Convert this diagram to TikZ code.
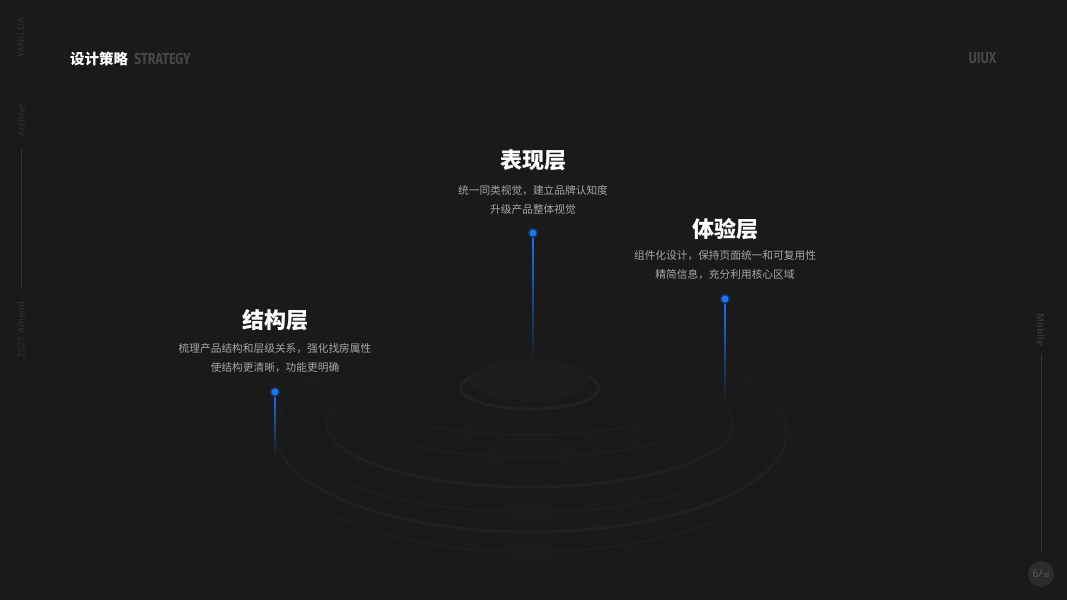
\documentclass[tikz,border=0pt]{standalone}
\usepackage{fontspec}
\setmainfont{Open Sans}
\newfontfamily\cjk{Noto Sans CJK SC}
\newfontfamily\narrow{Fira Sans}
\usetikzlibrary{calc, fadings}
\definecolor{fondo}{HTML}{1A1A1A}
\definecolor{anillo}{HTML}{222222}
\definecolor{tenue}{HTML}{1F1F1F}
\definecolor{disco}{HTML}{1D1D1D}
\definecolor{azul}{HTML}{1677FF}
\definecolor{azuloscuro}{HTML}{1B3050}
\definecolor{gristexto}{HTML}{A6A6A6}
\definecolor{grislateral}{HTML}{333333}
\definecolor{grisrotulo}{HTML}{474747}
\definecolor{grispagina}{HTML}{5C5C5C}
\definecolor{circulopagina}{HTML}{2C2C2C}
\tikzfading[name=ringfade, top color=transparent!100, middle color=transparent!25, bottom color=transparent!0]
\tikzfading[name=faintfade, top color=transparent!100, middle color=transparent!85, bottom color=transparent!0]
\tikzset{
  title/.style={font=\cjk\bfseries\fontsize{22}{26}\selectfont, text=white, inner sep=0pt},
  subtitle/.style={font=\cjk\fontsize{10.7}{19}\selectfont, text=gristexto, align=center, inner sep=0pt},
  dot/.style={circle, fill=azul, draw=azuloscuro, line width=1.6pt, minimum size=9pt, inner sep=0pt},
  side/.style={font=\fontsize{9.5}{11}\selectfont, text=grislateral, inner sep=0pt},
  ring/.style={draw=anillo, line width=3pt, path fading=ringfade},
  faintring/.style={draw=tenue, line width=2pt, path fading=faintfade},
  sideline/.style={draw=grislateral, line width=1pt}
}

\begin{document}
\begin{tikzpicture}[x=1pt, y=-1pt]

    % 1. Fondo
    \fill[fondo] (0,0) rectangle (1067,600);
    \useasboundingbox (0,0) rectangle (1067,600);

    % 2. Anillos del podio
    \draw[faintring] (530,445) ellipse [x radius=262pt, y radius=107pt];
    \draw[faintring] (530,435) ellipse [x radius=235pt, y radius=77pt];
    \draw[faintring] (530,415) ellipse [x radius=170pt, y radius=42pt];
    \draw[faintring] (530,410) ellipse [x radius=130pt, y radius=25pt];
    \draw[ring] (531,432) ellipse [x radius=256pt, y radius=100pt];
    \draw[ring] (530,424) ellipse [x radius=203pt, y radius=63pt];
    \draw[draw=anillo, line width=3pt] (530,388) ellipse [x radius=69pt, y radius=21pt];
    \fill[disco] (530,380) ellipse [x radius=60pt, y radius=21pt];

    % 3. Puntos y lineas azules
    \coordinate (endP) at (533,362);
    \coordinate (endE) at (725,402);
    \coordinate (endS) at (275,456);
    \shade[top color=azul, bottom color=fondo] ($(533,233)+(-0.7,0)$) rectangle ($(endP)+(0.7,0)$);
    \shade[top color=azul, bottom color=fondo] ($(725,299)+(-0.7,0)$) rectangle ($(endE)+(0.7,0)$);
    \shade[top color=azul, bottom color=fondo] ($(275,392)+(-0.7,0)$) rectangle ($(endS)+(0.7,0)$);
    \node[dot] (dotP) at (533,233) {};
    \node[dot] (dotE) at (725,299) {};
    \node[dot] (dotS) at (275,392) {};

    % 4. Textos de cada capa
    \node[title] (titleP) at (533,160) {表现层};
    \node[subtitle] (subP) at (533,199.5) {统一同类视觉，建立品牌认知度\\升级产品整体视觉};

    \node[title] (titleE) at (725,229) {体验层};
    \node[subtitle] (subE) at (725,265) {组件化设计，保持页面统一和可复用性\\精简信息，充分利用核心区域};

    \node[title] (titleS) at (275,320) {结构层};
    \node[subtitle] (subS) at (275,358.5) {梳理产品结构和层级关系，强化找房属性\\使结构更清晰，功能更明确};

    % 5. Cabecera
    \node[anchor=west, inner sep=0pt, font=\cjk\bfseries\fontsize{14.5}{16}\selectfont, text=white] (head) at (70,59) {设计策略};
    \node[anchor=west, inner sep=0pt, font=\narrow\bfseries\fontsize{16}{18}\selectfont, text=grisrotulo] (strategy) at (134,59) {\scalebox{0.78}[1]{STRATEGY}};
    \node[inner sep=0pt, font=\narrow\bfseries\fontsize{16}{18}\selectfont, text=grisrotulo] (uiux) at (982.5,58) {\scalebox{0.8}[1]{UIUX}};

    % 6. Barra lateral izquierda
    \node[side, rotate=90] (yang) at (21,37.5) {YANG DA};
    \node[side, rotate=90] (archive) at (21,120) {Archive};
    \node[side, rotate=90] (amend) at (21,330) {2021 Amend};
    \coordinate (lineL1) at (21,149);
    \coordinate (lineL2) at (21,287);
    \draw[sideline] (lineL1) -- (lineL2);

    % 7. Barra lateral derecha y pagina
    \node[side, rotate=-90, font=\bfseries\fontsize{9.5}{11}\selectfont] (mobile) at (1041,330) {Mobile};
    \coordinate (lineR1) at (1041,354);
    \coordinate (lineR2) at (1041,553);
    \draw[sideline] (lineR1) -- (lineR2);
    \fill[circulopagina] (1041,574) circle (13pt);
    \node[inner sep=0pt, text=grispagina, font=\fontsize{10.5}{12}\selectfont] (page) at (1041,574) {6/{\fontsize{6}{7}\selectfont 38}};

\end{tikzpicture}
\end{document}
